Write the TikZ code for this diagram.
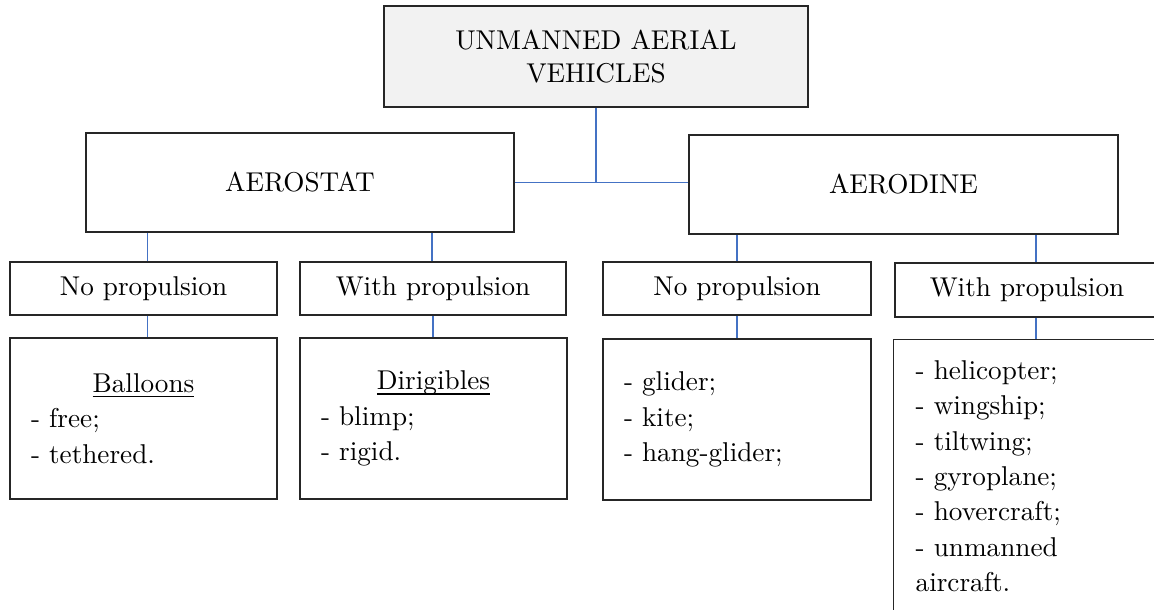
\documentclass[tikz,border=0pt]{standalone}
\usepackage{fontspec}
\newfontfamily\tnr{lmroman10-regular.otf}
\usetikzlibrary{calc}
\definecolor{connc}{HTML}{4472C4}
\definecolor{topfill}{HTML}{F2F2F2}
\newcommand\myul[1]{\setbox0\hbox{#1}\rlap{\vrule height -3.2pt depth 4.8pt width \wd0}\box0}
\begin{document}
\begin{tikzpicture}[x=1pt,y=-1pt,
  box/.style={draw=black!85,line width=1.3pt,rectangle,inner sep=0pt,
    font=\tnr\fontsize{27.2}{33}\selectfont},
  listbox/.style={box,font=\tnr\fontsize{27.2}{35.3}\selectfont,align=left,inner xsep=21pt},
  conn/.style={draw=connc,line width=1.3pt}]
\useasboundingbox (0,0) rectangle (1154,610);
\clip (0,0) rectangle (1154,610);

% level 0
\node[box,fill=topfill,minimum width=424pt,minimum height=101pt,align=center]
  (uav) at (596,56.5) {UNMANNED AERIAL\\VEHICLES};

% level 1
\node[box,minimum width=428pt,minimum height=99pt] (aerostat) at (300,182.5) {AEROSTAT};
\node[box,minimum width=429pt,minimum height=99pt] (aerodine) at (903.5,184.5) {AERODINE};

% level 2
\node[box,minimum width=267pt,minimum height=53pt] (np1) at (143.5,288.5) {No propulsion};
\node[box,minimum width=266pt,minimum height=53pt] (wp1) at (433,288.5) {With propulsion};
\node[box,minimum width=268pt,minimum height=53pt] (np2) at (737,288.5) {No propulsion};
\node[box,minimum width=264pt,minimum height=54pt] (wp2) at (1027,290) {With propulsion};

% level 3
\node[listbox,minimum width=267pt,minimum height=161pt,text width=225pt] (balloons) at (143.5,418.5)
  {\makebox[225pt][c]{\myul{Balloons}}\\- free;\\- tethered.};
\node[listbox,minimum width=267pt,minimum height=161pt,text width=225pt] (dirig) at (433.5,418.5)
  {\makebox[225pt][c]{\myul{Dirigibles}}\\- blimp;\\- rigid.};
\node[listbox,minimum width=268pt,minimum height=161pt,text width=226pt] (glider) at (737,419.5)
  {- glider;\\- kite;\\- hang-glider;};
\node[listbox,anchor=north west,inner xsep=22pt,inner ysep=21pt,text width=222pt] (heli) at (893,339)
  {- helicopter;\\- wingship;\\- tiltwing;\\- gyroplane;\\- hovercraft;\\- unmanned\\aircraft.\\ ~};

% connectors
\coordinate (j) at (uav.south |- aerostat.east);
\draw[conn] (uav.south) -- (j);
\draw[conn] (aerostat.east) -- (j) -- (aerodine.west |- j);

\draw[conn] ([xshift=4pt]np1.north) -- ([xshift=4pt]np1.north |- aerostat.south);
\draw[conn] ([xshift=-1pt]wp1.north) -- ([xshift=-1pt]wp1.north |- aerostat.south);
\draw[conn] (np2.north) -- (np2.north |- aerodine.south);
\draw[conn] ([xshift=9pt]wp2.north) -- ([xshift=9pt]wp2.north |- aerodine.south);

\draw[conn] ([xshift=4pt]np1.south) -- ([xshift=4pt]np1.south |- balloons.north);
\draw[conn] (wp1.south) -- (wp1.south |- dirig.north);
\draw[conn] (np2.south) -- (np2.south |- glider.north);
\draw[conn] ([xshift=9pt]wp2.south) -- ([xshift=9pt]wp2.south |- heli.north);
\end{tikzpicture}
\end{document}
